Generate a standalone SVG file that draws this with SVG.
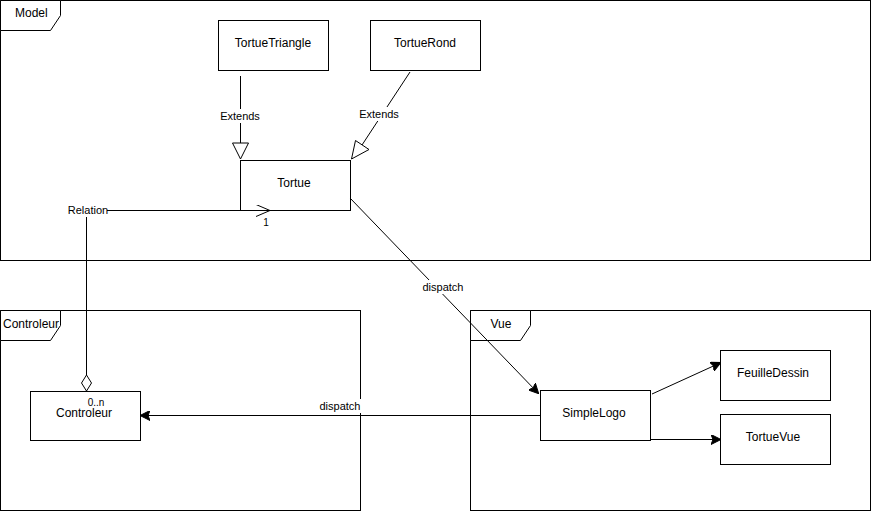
<svg xmlns="http://www.w3.org/2000/svg" width="871" height="512" viewBox="0 0 871 512">
<style>
.frame{fill:none;stroke:#000;stroke-width:1}
.tab{fill:#fff;stroke:#000;stroke-width:1}
.box{fill:#fff;stroke:#000;stroke-width:1}
.t{font-family:"Liberation Sans",Arial,sans-serif;font-size:12px;fill:#000;text-anchor:middle;dominant-baseline:central}
.tl{font-family:"Liberation Sans",Arial,sans-serif;font-size:12px;fill:#000;dominant-baseline:central}
.e{font-family:"Liberation Sans",Arial,sans-serif;font-size:11px;fill:#000;text-anchor:middle;dominant-baseline:central}
.s{font-family:"Liberation Sans",Arial,sans-serif;font-size:10px;fill:#000;text-anchor:middle;dominant-baseline:central}
.ln{fill:none;stroke:#000;stroke-width:1}
.lbg{fill:#fff}
</style>
<defs>
<marker id="block" markerWidth="10" markerHeight="10" refX="9" refY="5" orient="auto" markerUnits="userSpaceOnUse">
<path d="M0,0 L10,5 L0,10 L2,5 Z" fill="#000" stroke="#000" stroke-width="1"/>
</marker>
<marker id="open" markerWidth="16" markerHeight="12" refX="14" refY="6" orient="auto" markerUnits="userSpaceOnUse">
<path d="M0,0 L14,6 L0,12" fill="none" stroke="#000" stroke-width="1"/>
</marker>
</defs>
<rect width="871" height="512" fill="#fff"/>
<g id="frame-model">
<rect class="frame" x="0.5" y="0.5" width="870" height="260"/>
<path class="tab" d="M0.5,0.5 H60.5 V15.5 L50.5,30.5 H0.5 Z"/>
<text class="tl" x="15" y="13">Model</text>
</g>
<g id="frame-controleur">
<rect class="frame" x="0.5" y="310.5" width="360" height="200"/>
<path class="tab" d="M0.5,310.5 H60.5 V325.5 L50.5,340.5 H0.5 Z"/>
<text class="tl" x="3" y="324">Controleur</text>
</g>
<g id="frame-vue">
<rect class="frame" x="470.5" y="310.5" width="400" height="200"/>
<path class="tab" d="M470.5,310.5 H530.5 V325.5 L520.5,340.5 H470.5 Z"/>
<text class="t" x="501" y="324">Vue</text>
</g>
<g id="node-tortuetriangle">
<rect class="box" x="218.5" y="20.5" width="110" height="50"/>
<text class="t" x="273" y="43">TortueTriangle</text>
</g>
<g id="node-tortuerond">
<rect class="box" x="370.5" y="20.5" width="110" height="50"/>
<text class="t" x="425" y="43">TortueRond</text>
</g>
<g id="node-tortue">
<rect class="box" x="240.5" y="160.5" width="110" height="50"/>
<text class="t" x="294" y="183">Tortue</text>
</g>
<g id="node-controleur">
<rect class="box" x="30.5" y="391.5" width="110" height="49"/>
<text class="t" x="84" y="413">Controleur</text>
</g>
<g id="node-simplelogo">
<rect class="box" x="540.5" y="390.5" width="110" height="50"/>
<text class="t" x="594" y="413">SimpleLogo</text>
</g>
<g id="node-feuilledessin">
<rect class="box" x="720.5" y="350.5" width="110" height="50"/>
<text class="t" x="773" y="373">FeuilleDessin</text>
</g>
<g id="node-tortuevue">
<rect class="box" x="720.5" y="414.5" width="110" height="50"/>
<text class="t" x="773" y="437">TortueVue</text>
</g>
<g id="connectors">
<path class="ln" d="M240.5,76 V143"/>
<path d="M232.5,143 H248.5 L240.5,159 Z" fill="#fff" stroke="#000"/>
<rect class="lbg" x="219" y="109" width="43" height="14"/>
<text class="e" x="240" y="116">Extends</text>
<path class="ln" d="M410,72 L362,145"/>
<path d="M355.5,140.5 L369,149.5 L351.5,159 Z" fill="#fff" stroke="#000"/>
<rect class="lbg" x="358" y="107" width="43" height="14"/>
<text class="e" x="379" y="114">Extends</text>
<path class="ln" d="M86.5,375 V217"/>
<path class="ln" d="M107,210.5 H270" marker-end="url(#open)"/>
<path d="M86.5,375 L91.5,383 L86.5,391 L81.5,383 Z" fill="#fff" stroke="#000"/>
<text class="e" x="88" y="210">Relation</text>
<text class="s" x="266" y="222">1</text>
<text class="s" x="96" y="402">0..n</text>
<path class="ln" d="M540,415.5 H141" marker-end="url(#block)"/>
<rect class="lbg" x="319" y="399" width="43" height="14"/>
<text class="e" x="340" y="406">dispatch</text>
<path class="ln" d="M350,198 L538,393" marker-end="url(#block)"/>
<rect class="lbg" x="421" y="280" width="44" height="14"/>
<text class="e" x="443" y="287">dispatch</text>
<path class="ln" d="M652,394 L720,363" marker-end="url(#block)"/>
<path class="ln" d="M650,439.5 H720" marker-end="url(#block)"/>
</g>
</svg>
